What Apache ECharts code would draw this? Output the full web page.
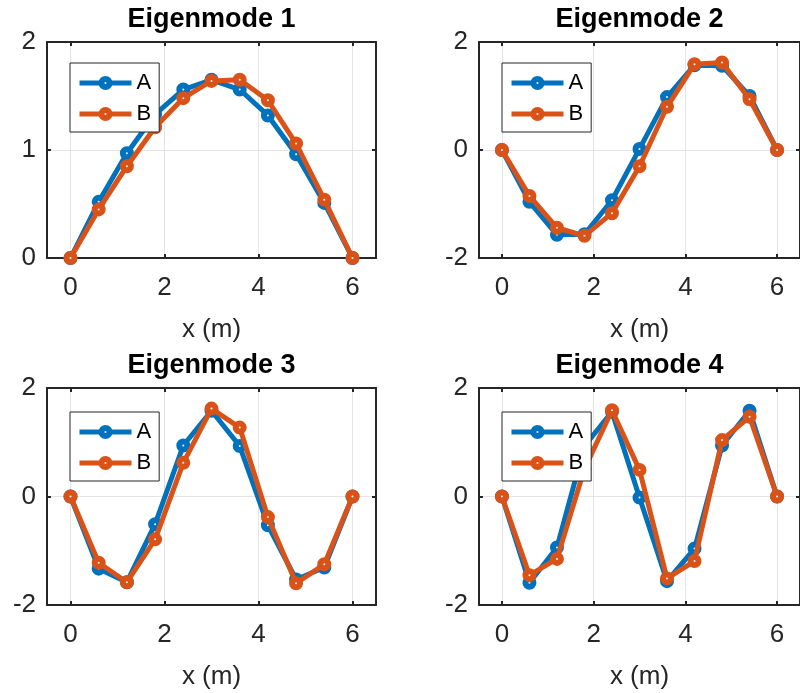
<!DOCTYPE html>
<html><head><meta charset="utf-8">
<script src="https://cdn.jsdelivr.net/npm/echarts@6/dist/echarts.min.js"></script>
<style>html,body{margin:0;padding:0;background:#fff}#c{width:800px;height:693px}</style>
</head><body><div id="c"></div>
<script>
// ---- data ----
const xPositions = [0, 0.6, 1.2, 1.8, 2.4, 3.0, 3.6, 4.2, 4.8, 5.4, 6.0];
const titles = ['Eigenmode 1', 'Eigenmode 2', 'Eigenmode 3', 'Eigenmode 4'];
const seriesNames = ['A', 'B'];
const xTicks = [0, 2, 4, 6];
const yTicksMode1 = [0, 1, 2];
const yTicksOther = [-2, 0, 2];
const xLabel = 'x (m)';

const mode1A = [0, 0.52, 0.97, 1.33, 1.56, 1.65, 1.56, 1.32, 0.96, 0.51, 0];
const mode1B = [0, 0.45, 0.85, 1.21, 1.48, 1.64, 1.65, 1.46, 1.06, 0.54, 0];
const mode2A = [0, -0.96, -1.57, -1.56, -0.93, 0.02, 0.98, 1.57, 1.56, 1.00, 0];
const mode2B = [0, -0.85, -1.44, -1.59, -1.17, -0.30, 0.80, 1.59, 1.62, 0.94, 0];
const mode3A = [0, -1.33, -1.58, -0.51, 0.94, 1.58, 0.93, -0.53, -1.53, -1.31, 0];
const mode3B = [0, -1.22, -1.58, -0.79, 0.62, 1.62, 1.27, -0.38, -1.60, -1.25, 0];
const mode4A = [0, -1.59, -0.94, 0.93, 1.56, -0.02, -1.56, -0.96, 0.94, 1.58, 0];
const mode4B = [0, -1.45, -1.15, 0.51, 1.59, 0.49, -1.51, -1.19, 1.04, 1.47, 0];

// ---- layout / style ----
const FONT = '"Liberation Sans", Arial, Helvetica, sans-serif';
const AX = '#262626';
const colors = ['#0072BD', '#D95319'];
const panels = [
  {left: 47, top: 42, width: 329, height: 216, a: mode1A, b: mode1B, yt: yTicksMode1, legTop: 63},
  {left: 479, top: 42, width: 330, height: 216, a: mode2A, b: mode2B, yt: yTicksOther, legTop: 63},
  {left: 47, top: 388, width: 329, height: 217, a: mode3A, b: mode3B, yt: yTicksOther, legTop: 412},
  {left: 479, top: 388, width: 330, height: 217, a: mode4A, b: mode4B, yt: yTicksOther, legTop: 412}
];

const grid = [], xAxis = [], yAxis = [], series = [], legend = [];
const lineAx = {show: true, onZero: false, lineStyle: {color: AX, width: 2}};
const tickAx = {show: true, inside: true, length: 4, lineStyle: {color: AX, width: 2}};
const split = {show: true, lineStyle: {color: '#e4e4e4', width: 1}};

panels.forEach((p, i) => {
  grid.push({left: p.left, top: p.top, width: p.width, height: p.height, containLabel: false, show: false});
  const yMin = p.yt[0], yMax = p.yt[p.yt.length - 1], yInt = p.yt[1] - p.yt[0];
  xAxis.push({
    gridIndex: i, type: 'value', min: -0.5, max: 6.5, position: 'bottom',
    axisLine: lineAx,
    axisTick: Object.assign({customValues: xTicks}, tickAx),
    axisLabel: {customValues: xTicks, fontSize: 26, color: AX, fontFamily: FONT, margin: 17},
    splitLine: split,
    name: xLabel, nameLocation: 'middle', nameGap: 59,
    nameTextStyle: {fontSize: 26, color: AX, fontFamily: FONT}
  });
  xAxis.push({
    gridIndex: i, type: 'value', min: -0.5, max: 6.5, position: 'top',
    axisLine: lineAx,
    axisTick: Object.assign({customValues: xTicks}, tickAx),
    axisLabel: {show: false, customValues: xTicks},
    splitLine: {show: false},
    name: titles[i], nameLocation: 'middle', nameGap: 9,
    nameTextStyle: {fontSize: 27, fontWeight: 'bold', color: '#000', fontFamily: FONT}
  });
  yAxis.push({
    gridIndex: i, type: 'value', min: yMin, max: yMax, interval: yInt, position: 'left',
    axisLine: lineAx, axisTick: tickAx,
    axisLabel: {fontSize: 26, color: AX, fontFamily: FONT, margin: 11},
    splitLine: split
  });
  yAxis.push({
    gridIndex: i, type: 'value', min: yMin, max: yMax, interval: yInt, position: 'right',
    axisLine: lineAx, axisTick: tickAx,
    axisLabel: {show: false}, splitLine: {show: false}
  });
  [p.a, p.b].forEach((vals, k) => {
    series.push({
      name: seriesNames[k], type: 'line',
      xAxisIndex: 2 * i, yAxisIndex: 2 * i,
      data: xPositions.map((x, j) => [x, vals[j]]),
      symbol: 'circle', symbolSize: 8, showAllSymbol: true,
      lineStyle: {color: colors[k], width: 5},
      itemStyle: {color: '#f4f4f4', borderColor: colors[k], borderWidth: 6},
      emphasis: {disabled: true}, animation: false, z: 2 + k
    });
  });
  legend.push({
    left: p.left + 23, top: p.legTop, orient: 'vertical',
    data: seriesNames.map((n, k) => ({name: n})),
    itemWidth: 52, itemHeight: 10, itemGap: 9, padding: [9, 8, 7, 7],
    lineStyle: {width: 5},
    itemStyle: {borderWidth: 6},
    borderColor: AX, borderWidth: 1, backgroundColor: '#fff',
    textStyle: {fontSize: 22, color: '#000', fontFamily: FONT, lineHeight: 22},
    selectedMode: false
  });
});

const chart = echarts.init(document.getElementById('c'), null, {renderer: 'canvas'});
chart.setOption({backgroundColor: '#fff', animation: false, grid, xAxis, yAxis, series, legend});
</script></body></html>
